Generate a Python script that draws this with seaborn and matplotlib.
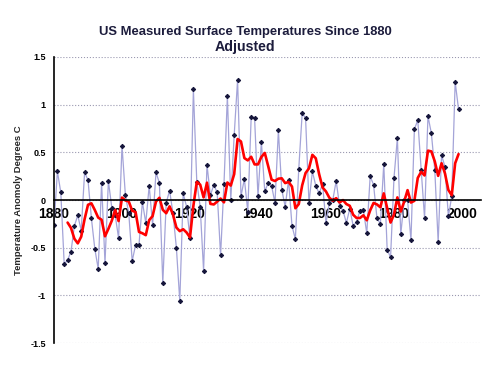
import pandas as pd
import matplotlib
matplotlib.use("Agg")
import matplotlib.pyplot as plt
import seaborn as sns

# chart data
years = list(range(1880, 2000))
temps = [
    -0.26, 0.30, 0.08, -0.67, -0.63, -0.54, -0.27, -0.16, -0.32, 0.29,   # 1880s
    0.21, -0.19, -0.51, -0.72, 0.18, -0.66, 0.20, -0.08, -0.16, -0.40,   # 1890s
    0.57, 0.05, -0.14, -0.64, -0.47, -0.47, -0.02, -0.24, 0.15, -0.26,   # 1900s
    0.29, 0.18, -0.87, -0.03, 0.10, -0.14, -0.50, -1.06, 0.07, -0.07,    # 1910s
    -0.40, 1.16, 0.19, -0.07, -0.74, 0.37, 0.05, 0.16, 0.08, -0.58,      # 1920s
    0.17, 1.09, 0.00, 0.68, 1.26, 0.04, 0.22, -0.12, 0.87, 0.86,         # 1930s
    0.04, 0.61, 0.09, 0.18, 0.15, -0.03, 0.73, 0.11, -0.07, 0.21,        # 1940s
    -0.27, -0.41, 0.33, 0.91, 0.86, -0.03, 0.30, 0.15, 0.07, 0.17,       # 1950s
    -0.24, -0.03, 0.00, 0.20, -0.06, -0.11, -0.24, -0.09, -0.27, -0.23,  # 1960s
    -0.11, -0.10, -0.35, 0.25, 0.16, -0.19, -0.25, 0.38, -0.52, -0.60,   # 1970s
    0.23, 0.65, -0.36, 0.00, 0.00, -0.42, 0.74, 0.84, 0.32, -0.19,       # 1980s
    0.88, 0.70, 0.32, -0.44, 0.47, 0.35, -0.17, 0.04, 1.24, 0.95,        # 1990s
]
x_ticks = [1880, 1900, 1920, 1940, 1960, 1980, 2000]
y_ticks = [-1.5, -1, -0.5, 0, 0.5, 1, 1.5]
y_tick_labels = ["-1.5", "-1", "-0.5", "0", "0.5", "1", "1.5"]
title = "US Measured Surface Temperatures Since 1880"
subtitle = "Adjusted"
y_label = "Temperature Anomoly Degrees C"

df = pd.DataFrame({"Year": years, "Anomaly": temps})
# 5-year moving average (the red trend line)
df["Smooth"] = df["Anomaly"].rolling(5).mean()

sns.set_style("white")
plt.rcParams["font.family"] = ["Liberation Sans", "DejaVu Sans"]
plt.rcParams["font.weight"] = "bold"

fig = plt.figure(figsize=(5, 3.75), dpi=100)
ax = fig.add_axes([0.108, 0.085, 0.854, 0.763])

sns.lineplot(data=df, x="Year", y="Anomaly", color="#a4a4d8", linewidth=0.9,
             marker="D", markersize=2.2, markerfacecolor="#15153a",
             markeredgecolor="#15153a", ax=ax)
sns.lineplot(data=df, x="Year", y="Smooth", color="#ff0000", linewidth=1.9, ax=ax)

ax.set_xlim(1880, 2005.6)
ax.set_ylim(-1.5, 1.5)
ax.set_xticks(x_ticks)
ax.set_xticklabels([str(t) for t in x_ticks], fontsize=6.5, fontweight="bold")
ax.set_yticks(y_ticks)
ax.set_yticklabels(y_tick_labels, fontsize=6.5, fontweight="bold")
ax.set_xlabel("")
ax.set_ylabel(y_label, fontsize=6.8, fontweight="bold", labelpad=5)

ax.yaxis.grid(True, linestyle=":", color="#9a98b0", linewidth=0.8)
ax.xaxis.grid(False)
ax.set_axisbelow(True)

for side in ["top", "right"]:
    ax.spines[side].set_visible(False)
ax.spines["bottom"].set_position(("data", 0))
ax.spines["bottom"].set_color("black")
ax.spines["bottom"].set_linewidth(1.2)
ax.spines["left"].set_color("black")
ax.spines["left"].set_linewidth(1.2)
ax.tick_params(axis="x", direction="out", length=3, width=0.8, pad=2, colors="black")
ax.tick_params(axis="y", direction="out", length=3, width=0.8, pad=3, colors="black")

fig.text(0.49, 0.915, title, ha="center", va="center", fontsize=9.4,
         fontweight="bold", color="#1c1c3c")
fig.text(0.49, 0.875, subtitle, ha="center", va="center", fontsize=10.2,
         fontweight="bold", color="#1c1c3c")

fig.savefig("out.png", dpi=100)
